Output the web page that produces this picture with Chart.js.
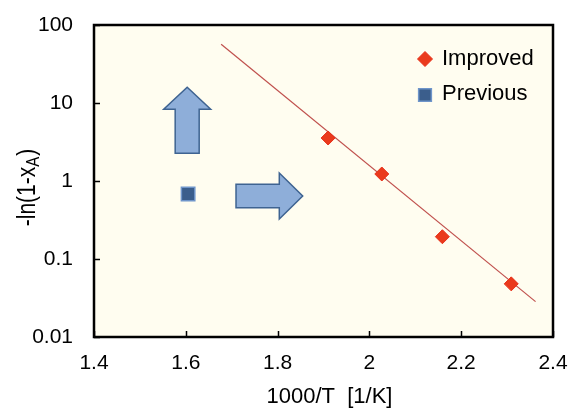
<!DOCTYPE html>
<html>
<head>
<meta charset="utf-8">
<script src="https://cdn.jsdelivr.net/npm/chart.js@4.4.1/dist/chart.umd.min.js"></script>
<style>
  html, body { margin: 0; padding: 0; background: #ffffff; }
  #myChart { display: block; }
</style>
</head>
<body>
<canvas id="myChart" width="569" height="408"></canvas>
<script>
// measured runs, x = 1000/T [1/K], y = -ln(1-xA)
var improvedX = [1.91, 2.027, 2.159, 2.309];
var improvedY = [3.56, 1.23, 0.193, 0.048];
var previousX = [1.605];
var previousY = [0.68];

// fitted Arrhenius line end points
var fitX = [1.677, 2.362];
var fitY = [56.6, 0.0284];

var xTicks = [1.4, 1.6, 1.8, 2.0, 2.2, 2.4];
var yTicks = [0.01, 0.1, 1, 10, 100];

var FONT = '"Liberation Sans", Arial, sans-serif';

function toPoints(xs, ys) {
    var pts = [];
    for (let i = 0; i < xs.length; i++) {
        pts.push({ x: xs[i], y: ys[i] });
    }
    return pts;
}

// no automatic label overflow padding, the layout padding decides
function noPadding(axis) {
    axis.paddingTop = 0;
    axis.paddingBottom = 0;
    axis.paddingLeft = 0;
    axis.paddingRight = 0;
}

// +++++++++++++++++++++++ DECORATION PLUGIN +++++++++++++++++++++++

// the two block arrows, anchored in data units
var upArrow = { x: 1.603, tail: 2.27, base: 8.3, tip: 15.9, shaft: 12, head: 23.5 };
var rightArrow = { y: 0.643, tail: 1.7094, base: 1.8037, tip: 1.8547, shaft: 11.7, head: 23 };

var framePlugin = {
    id: 'frame',
    beforeDraw: function (chart) {
        var ctx = chart.ctx, a = chart.chartArea;
        ctx.save();
        ctx.fillStyle = '#fffdf0';
        ctx.fillRect(a.left, a.top, a.right - a.left, a.bottom - a.top);
        ctx.restore();
    },
    beforeDatasetsDraw: function (chart) {
        var ctx = chart.ctx;
        var xs = chart.scales.x, ys = chart.scales.y;
        ctx.save();
        ctx.fillStyle = '#8eaed9';
        ctx.strokeStyle = '#3e6391';
        ctx.lineWidth = 1.5;
        ctx.lineJoin = 'miter';

        // up arrow
        var cx = xs.getPixelForValue(upArrow.x);
        var t = ys.getPixelForValue(upArrow.tail);
        var b = ys.getPixelForValue(upArrow.base);
        var p = ys.getPixelForValue(upArrow.tip);
        ctx.beginPath();
        ctx.moveTo(cx - upArrow.shaft, t);
        ctx.lineTo(cx - upArrow.shaft, b);
        ctx.lineTo(cx - upArrow.head, b);
        ctx.lineTo(cx, p);
        ctx.lineTo(cx + upArrow.head, b);
        ctx.lineTo(cx + upArrow.shaft, b);
        ctx.lineTo(cx + upArrow.shaft, t);
        ctx.closePath();
        ctx.fill();
        ctx.stroke();

        // right arrow
        var cy = ys.getPixelForValue(rightArrow.y);
        t = xs.getPixelForValue(rightArrow.tail);
        b = xs.getPixelForValue(rightArrow.base);
        p = xs.getPixelForValue(rightArrow.tip);
        ctx.beginPath();
        ctx.moveTo(t, cy - rightArrow.shaft);
        ctx.lineTo(b, cy - rightArrow.shaft);
        ctx.lineTo(b, cy - rightArrow.head);
        ctx.lineTo(p, cy);
        ctx.lineTo(b, cy + rightArrow.head);
        ctx.lineTo(b, cy + rightArrow.shaft);
        ctx.lineTo(t, cy + rightArrow.shaft);
        ctx.closePath();
        ctx.fill();
        ctx.stroke();
        ctx.restore();
    },
    afterDraw: function (chart) {
        var ctx = chart.ctx, a = chart.chartArea;
        var xs = chart.scales.x, ys = chart.scales.y;
        ctx.save();

        // frame
        ctx.strokeStyle = '#000000';
        ctx.lineWidth = 2.5;
        ctx.strokeRect(a.left, a.top, a.right - a.left, a.bottom - a.top);

        // inward tick marks
        ctx.lineWidth = 1.5;
        ctx.beginPath();
        xTicks.forEach(function (v) {
            var px = Math.round(xs.getPixelForValue(v)) + 0.5;
            ctx.moveTo(px, a.bottom);
            ctx.lineTo(px, a.bottom - 6);
        });
        yTicks.forEach(function (v) {
            var py = Math.round(ys.getPixelForValue(v)) + 0.5;
            ctx.moveTo(a.left, py);
            ctx.lineTo(a.left + 6, py);
        });
        ctx.stroke();

        // x title
        ctx.fillStyle = '#000000';
        ctx.font = '22px ' + FONT;
        ctx.textAlign = 'center';
        ctx.textBaseline = 'alphabetic';
        ctx.fillText('1000/T  [1/K]', (a.left + a.right) / 2 + 6, 403);

        // y title with subscript, a little taller than wide
        ctx.translate(35, 188);
        ctx.rotate(-Math.PI / 2);
        ctx.scale(1, 1.2);
        ctx.textAlign = 'left';
        var main = '-ln(1-x', sub = 'A', close = ')';
        ctx.font = '21px ' + FONT;
        var w1 = ctx.measureText(main).width;
        var w3 = ctx.measureText(close).width;
        ctx.font = '15px ' + FONT;
        var w2 = ctx.measureText(sub).width;
        var start = -(w1 + w2 + w3) / 2;
        ctx.font = '21px ' + FONT;
        ctx.fillText(main, start, 0);
        ctx.fillText(close, start + w1 + w2 + 1, 0);
        ctx.font = '15px ' + FONT;
        ctx.fillText(sub, start + w1, 3);
        ctx.restore();

        // legend inside the plot
        var items = chart.data.datasets.filter(function (d) { return d.label; });
        ctx.save();
        ctx.font = '22px ' + FONT;
        ctx.textBaseline = 'middle';
        var rowY = [59, 93.5];
        items.forEach(function (d, i) {
            ctx.fillStyle = d.backgroundColor;
            ctx.strokeStyle = d.borderColor;
            ctx.lineWidth = d.borderWidth;
            Chart.helpers.drawPoint(ctx, {
                pointStyle: d.pointStyle,
                radius: d.legendRadius,
                borderWidth: d.borderWidth
            }, 425, rowY[i] + (d.pointStyle === 'rect' ? 1.5 : 0));
            ctx.fillStyle = '#000000';
            ctx.fillText(d.label, 442, rowY[i]);
        });
        ctx.restore();
    }
};

// +++++++++++++++++++++++++ ADDING CHART ++++++++++++++++++++++++++++

var canvas = document.getElementById('myChart').getContext('2d');
var myChart = new Chart(canvas, {
    type: 'scatter',
    data: {
        datasets: [
            {
                label: 'Improved',
                data: toPoints(improvedX, improvedY),
                pointStyle: 'rectRot',
                pointRadius: 7,
                legendRadius: 7.5,
                backgroundColor: '#ea3a1c',
                borderColor: '#e8301a',
                borderWidth: 1,
                order: 1
            },
            {
                label: 'Previous',
                data: toPoints(previousX, previousY),
                pointStyle: 'rect',
                pointRadius: 9.5,
                legendRadius: 9,
                backgroundColor: '#3b5e8c',
                borderColor: '#6f95ca',
                borderWidth: 1.5,
                order: 1
            },
            {
                label: '',
                data: toPoints(fitX, fitY),
                showLine: true,
                pointRadius: 0,
                borderColor: '#c0504d',
                borderWidth: 1.2,
                order: 2
            }
        ]
    },
    options: {
        responsive: false,
        animation: false,
        devicePixelRatio: 1,
        layout: { padding: { top: 25, right: 16, left: 0, bottom: 0 } },
        plugins: {
            legend: { display: false },
            tooltip: { enabled: false }
        },
        scales: {
            x: {
                type: 'linear',
                min: 1.4,
                max: 2.4,
                afterBuildTicks: function (axis) {
                    axis.ticks = xTicks.map(function (v) { return { value: v }; });
                },
                afterFit: function (axis) { axis.height = 71; noPadding(axis); },
                grid: { display: false, drawTicks: false },
                border: { display: false },
                ticks: {
                    padding: 14,
                    color: '#000000',
                    font: { family: FONT, size: 21 },
                    maxRotation: 0,
                    callback: function (value) { return String(+value.toFixed(1)); }
                }
            },
            y: {
                type: 'logarithmic',
                min: 0.01,
                max: 100,
                afterBuildTicks: function (axis) {
                    axis.ticks = yTicks.map(function (v) { return { value: v }; });
                },
                afterFit: function (axis) { axis.width = 94; noPadding(axis); },
                grid: { display: false, drawTicks: false },
                border: { display: false },
                ticks: {
                    padding: 21,
                    color: '#000000',
                    font: { family: FONT, size: 21 },
                    callback: function (value) { return String(value); }
                }
            }
        }
    },
    plugins: [framePlugin]
});
</script>
</body>
</html>
